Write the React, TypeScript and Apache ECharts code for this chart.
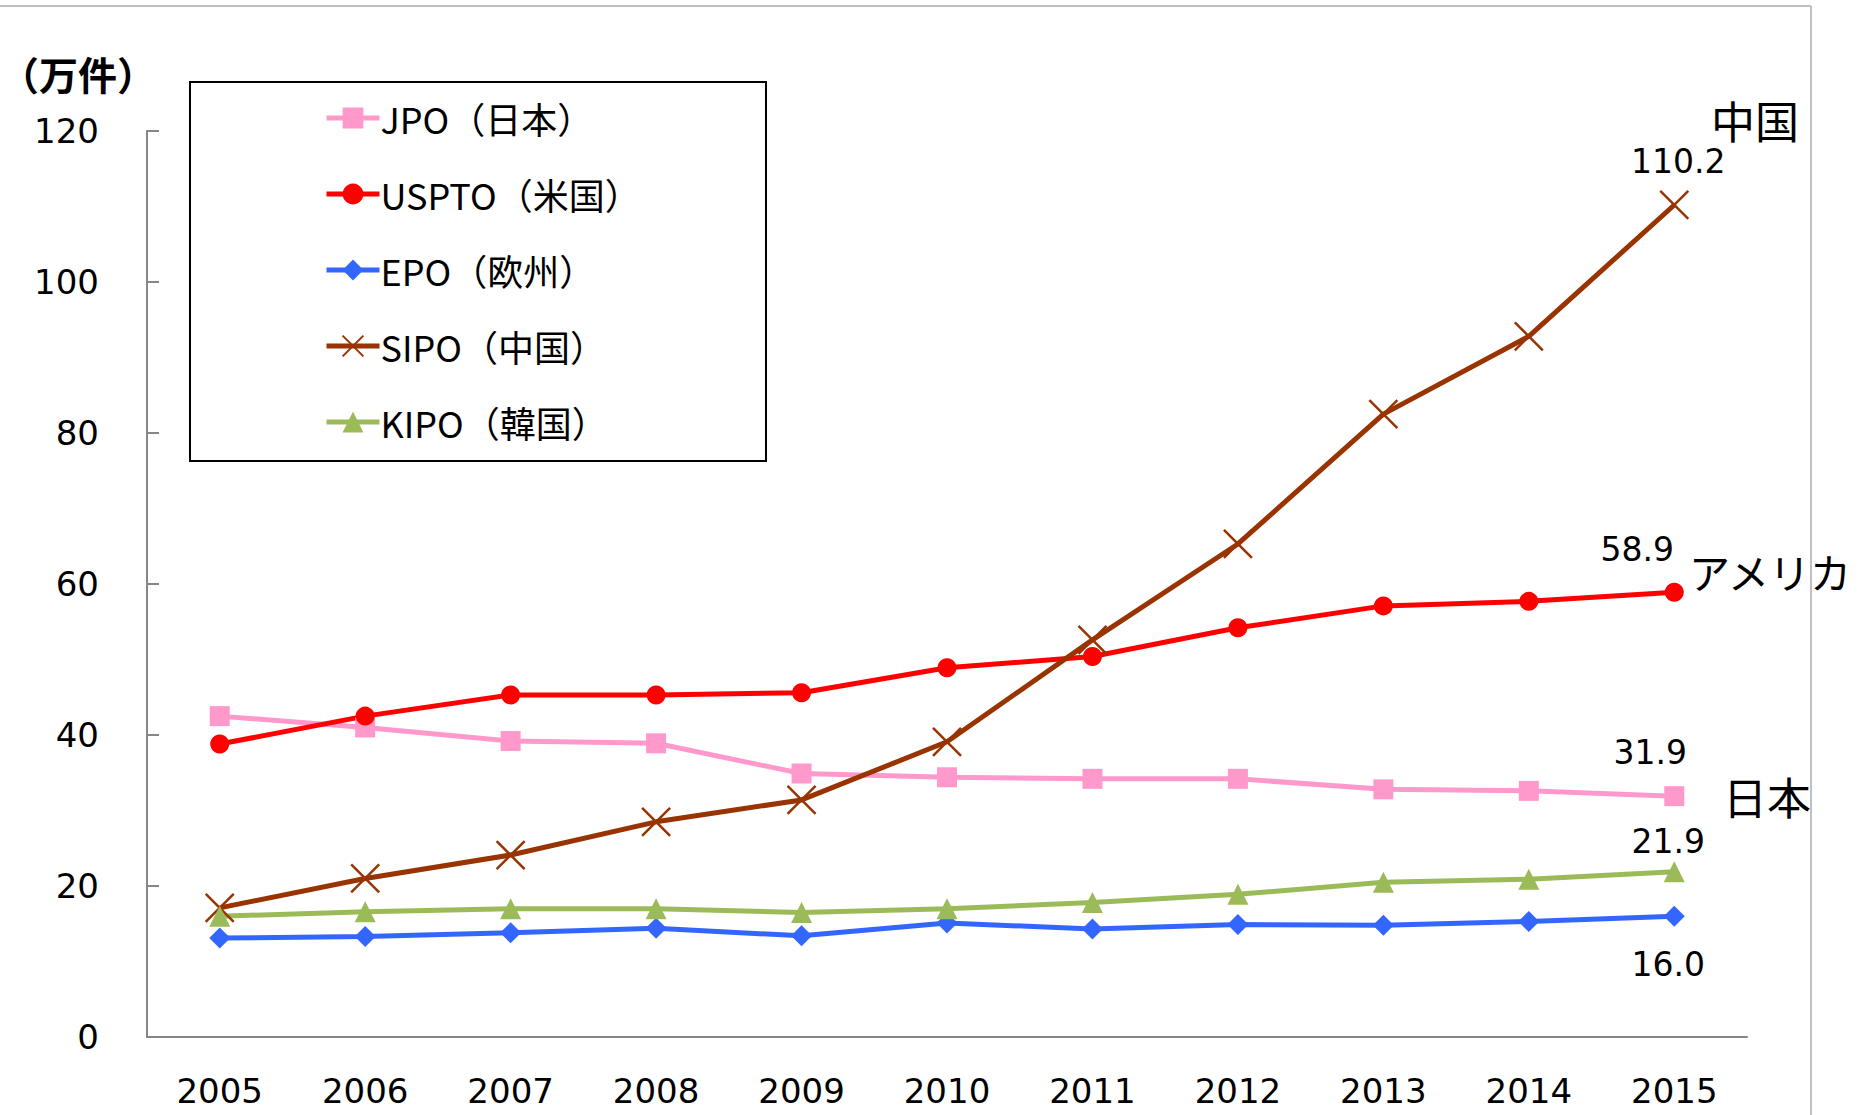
import React, { useEffect, useRef } from "react";
import * as echarts from "echarts";

const years = ["2005", "2006", "2007", "2008", "2009", "2010", "2011", "2012", "2013", "2014", "2015"];
const jpo = [42.5, 41.0, 39.2, 38.9, 34.9, 34.4, 34.2, 34.2, 32.8, 32.6, 31.9];
const uspto = [38.8, 42.5, 45.3, 45.3, 45.6, 48.9, 50.4, 54.2, 57.1, 57.7, 58.9];
const epo = [13.1, 13.3, 13.8, 14.4, 13.4, 15.1, 14.3, 14.9, 14.8, 15.3, 16.0];
const sipo = [17.1, 21.0, 24.1, 28.5, 31.4, 39.1, 52.6, 65.3, 82.5, 92.8, 110.2];
const kipo = [16.0, 16.6, 17.0, 17.0, 16.5, 17.0, 17.8, 18.9, 20.5, 20.9, 21.9];
const seriesNames = ["JPO（日本）", "USPTO（米国）", "EPO（欧州）", "SIPO（中国）", "KIPO（韓国）"];
const yTicks = [0, 20, 40, 60, 80, 100, 120];

const FONT = "'Noto Sans CJK JP', 'Noto Sans', sans-serif";
const NUM_FONT = "'DejaVu Sans', 'Noto Sans', sans-serif";

export default function App() {
  const ref = useRef<HTMLDivElement>(null);
  useEffect(() => {
    document.body.style.margin = "0";
    const chart = echarts.init(ref.current!, null, { renderer: "svg" });
    const last = years.length - 1;
    const endLabel = (dx: number, dy: number) => ({
      show: true,
      position: "inside",
      offset: [dx, dy],
      fontSize: 33,
      fontFamily: NUM_FONT,
      color: "#000",
      formatter: (p: any) => (p.dataIndex === last ? Number(p.value).toFixed(1) : ""),
    });
    const mk = (name: string, data: number[], color: string, symbol: string, size: number, label: any, extra: any = {}) => ({
      name,
      type: "line",
      data,
      symbol,
      symbolSize: size,
      lineStyle: { color, width: 5 },
      itemStyle: { color },
      label,
      ...extra,
    });
    const option: any = {
      animation: false,
      backgroundColor: "#fff",
      grid: { left: 147, right: 115, top: 131, bottom: 78 },
      xAxis: {
        type: "category",
        data: years,
        boundaryGap: true,
        axisLine: { lineStyle: { color: "#868686", width: 2 } },
        axisTick: { inside: true, length: 12, lineStyle: { color: "#868686", width: 2 } },
        axisLabel: { fontSize: 34, fontFamily: NUM_FONT, color: "#000", margin: 37 },
      },
      yAxis: {
        type: "value",
        min: 0,
        max: 120,
        interval: 20,
        axisLine: { show: true, lineStyle: { color: "#868686", width: 2 } },
        axisTick: { show: true, inside: true, length: 12, lineStyle: { color: "#868686", width: 2 } },
        splitLine: { show: false },
        axisLabel: {
          fontSize: 34,
          fontFamily: NUM_FONT,
          color: "#000",
          margin: 48,
          formatter: (v: number) => (yTicks.includes(v) ? String(v) : ""),
        },
      },
      legend: {
        orient: "vertical",
        left: 319,
        top: 95,
        itemWidth: 53,
        itemHeight: 26,
        itemGap: 40,
        data: seriesNames,
        lineStyle: { width: 5 },
        textStyle: { fontSize: 36, fontFamily: FONT, color: "#000", padding: [0, 0, 0, -4] },
      },
      graphic: [
        { type: "rect", shape: { x: 190, y: 82, width: 576, height: 379 }, style: { fill: "none", stroke: "#000", lineWidth: 2 }, z: 10 },
        { type: "line", shape: { x1: 0, y1: 6, x2: 1811, y2: 6 }, style: { stroke: "#c0c0c0", lineWidth: 2 } },
        { type: "line", shape: { x1: 1811, y1: 6, x2: 1811, y2: 1115 }, style: { stroke: "#c0c0c0", lineWidth: 2 } },
        { type: "text", x: 0, y: 73, style: { text: "（万件）", fontSize: 39, fontWeight: "bold", fontFamily: FONT, fill: "#000", verticalAlign: "middle" } },
        { type: "text", x: 1711, y: 120, style: { text: "中国", fontSize: 44, fontFamily: FONT, fill: "#000", verticalAlign: "middle" } },
        { type: "text", x: 1689, y: 571, style: { text: "アメリカ", fontSize: 41, fontFamily: FONT, fill: "#000", verticalAlign: "middle" } },
        { type: "text", x: 1723, y: 796, style: { text: "日本", fontSize: 44, fontFamily: FONT, fill: "#000", verticalAlign: "middle" } },
      ],
      series: [
        mk(seriesNames[0], jpo, "#FF99CC", "rect", 20, endLabel(-24, -44)),
        mk(seriesNames[1], uspto, "#FF0000", "circle", 19, endLabel(-37, -43)),
        mk(seriesNames[2], epo, "#3366FF", "diamond", 21, endLabel(-6, 48)),
        mk(seriesNames[3], sipo, "#993300", "path://M0,0L24,24M24,0L0,24", 28, endLabel(4, -43), {
          itemStyle: { color: "none", borderColor: "#993300", borderWidth: 2.5 },
        }),
        mk(seriesNames[4], kipo, "#9BBB59", "triangle", 21, endLabel(-6, -30)),
      ],
    };
    chart.setOption(option);
    return () => chart.dispose();
  }, []);
  return <div ref={ref} style={{ position: "fixed", left: 0, top: 0, width: 1862, height: 1115 }} />;
}
